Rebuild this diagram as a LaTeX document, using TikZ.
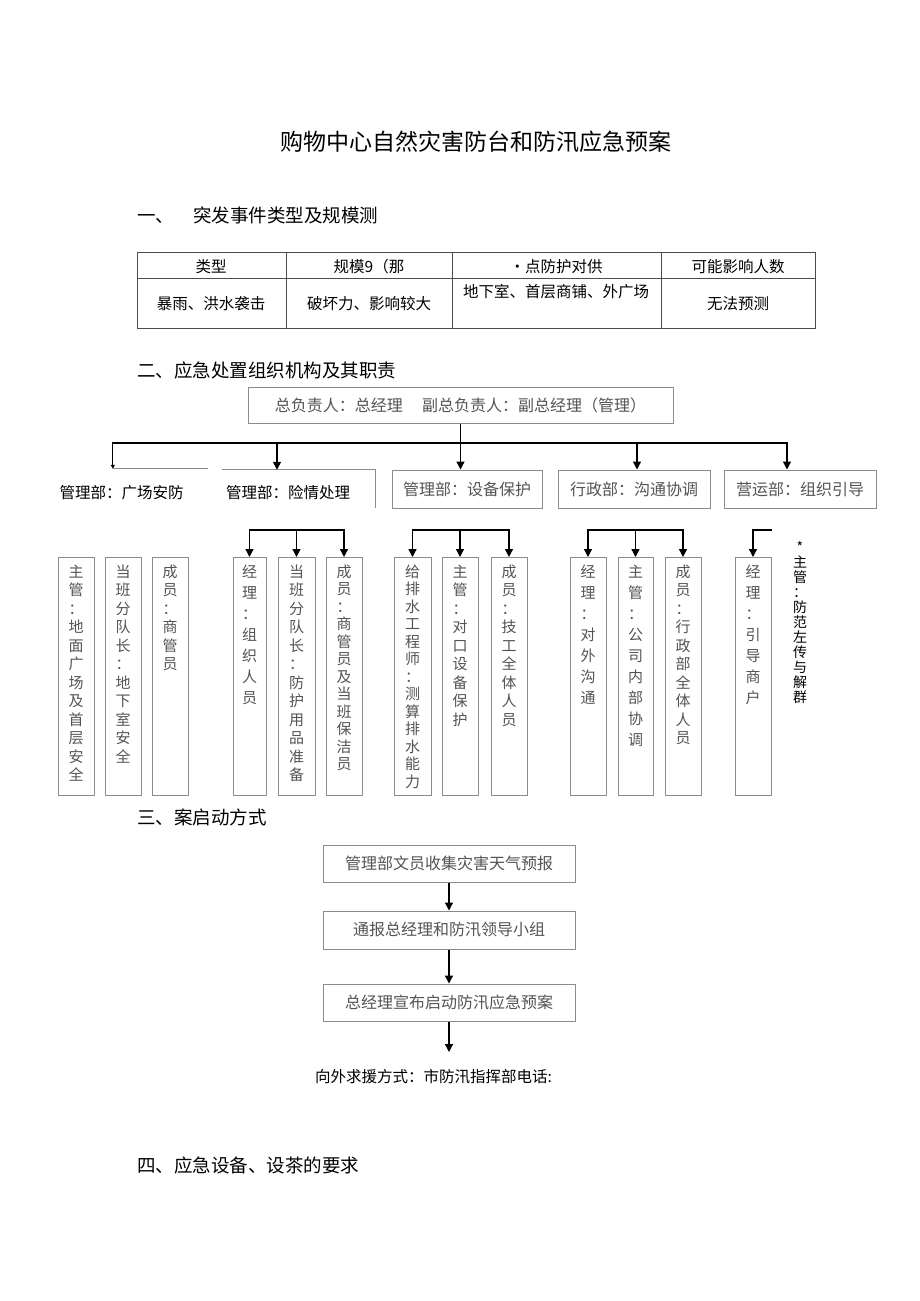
\documentclass[tikz,border=0pt]{standalone}
\usepackage{fontspec}
\setmainfont{Noto Sans CJK SC}
\usetikzlibrary{arrows.meta,positioning}
\definecolor{boxgray}{rgb}{0.55,0.55,0.55}
\definecolor{txtgray}{rgb}{0.33,0.33,0.33}
\definecolor{rulegray}{rgb}{0.3,0.3,0.3}

% one character per line, for the tall boxes
\newcommand\colstack[2][230pt]{\parbox[c][#1][t]{18pt}{\centering\vspace*{3pt}\colstackA#2\relax}}
\def\colstackA#1{\ifx\relax#1\else#1\par\expandafter\colstackA\fi}

\begin{document}
\begin{tikzpicture}[x=1pt, y=-1pt,
  heading/.style={anchor=west, inner sep=0pt, font=\fontsize{18.5}{22}\selectfont},
  cell/.style={inner sep=0pt, font=\fontsize{15.5}{19}\selectfont},
  unit/.style={draw=boxgray, line width=1pt, text=txtgray, minimum height=38pt, font=\fontsize{16}{20}\selectfont},
  member/.style={draw=boxgray, line width=1pt, text=txtgray, anchor=north, minimum width=36pt, inner sep=4pt, font=\fontsize{15}{18.5}\selectfont},
  wide/.style={font=\fontsize{15}{21}\selectfont},
  tight/.style={font=\fontsize{15}{17.5}\selectfont},
  link/.style={-{Triangle[width=8pt,length=8pt]}, line width=1.3pt}
]
\useasboundingbox[fill=white] (0,0) rectangle (920,1301);

\node[font=\fontsize{23}{28}\selectfont] (title) at (476,142) {购物中心自然灾害防台和防汛应急预案};

% section one: table
\node[heading] (sec1) at (137,215) {一、\hspace{19pt}突发事件类型及规模测};
\draw[rulegray, line width=0.9pt] (137,252) rectangle (815,328);
\draw[rulegray, line width=0.9pt] (137,278) -- (815,278);
\foreach \x in {286,452,661}
  \draw[rulegray, line width=0.9pt] (\x,252) -- (\x,328);
\node[cell] (hType) at (211,267) {类型};
\node[cell] (hScale) at (369,267) {规模9（那};
\node[cell] (hSpot) at (556,267) {·点防护对供};
\node[cell] (hPeople) at (738,267) {可能影响人数};
\node[cell] (vType) at (211,304) {暴雨、洪水袭击};
\node[cell] (vScale) at (369,304) {破坏力、影响较大};
\node[cell] (vSpot) at (556,292) {地下室、首层商铺、外广场};
\node[cell] (vPeople) at (738,304) {无法预测};

% section two: organisation
\node[heading] (sec2) at (137,370) {二、应急处置组织机构及其职责};
\node[unit, minimum width=425pt, minimum height=36pt] (chief) at (460.5,405) {总负责人：总经理\hspace{1.2em}副总负责人：副总经理（管理）};
\coordinate (hub) at (460.5,443);

\node[minimum width=95pt, minimum height=40pt] (plaza) at (160.5,489) {};
\node[cell] (plazatxt) at (121.5,493) {管理部：广场安防};
\node[minimum width=153pt, minimum height=38pt] (rescue) at (298.5,489) {};
\node[cell] (rescuetxt) at (288,493) {管理部：险情处理};
\node[unit, minimum width=150pt] (equip) at (467,489) {管理部：设备保护};
\node[unit, minimum width=152pt] (admin) at (634,489) {行政部：沟通协调};
\node[unit, minimum width=152pt] (ops) at (800,489) {营运部：组织引导};
\draw[boxgray, line width=1pt] (plaza.north west) -- (plaza.north east);
\draw[boxgray, line width=1pt] (rescue.north west) -- (rescue.north east) -- (rescue.south east);

\draw[line width=1.3pt] (chief) -- (hub);
\draw[line width=1.3pt, -{Triangle[width=4pt,length=4pt]}] (hub) -| (plaza.north west);
\draw[link] (hub) -| ([xshift=-21.5pt]rescue.north);
\draw[link] (hub) -- (hub |- equip.north);
\draw[link] (hub) -| ([xshift=3pt]admin.north);
\draw[link] (hub) -| ([xshift=-13pt]ops.north);

% members
\node[member] (p1) at (76,557) {\colstack{主管：地面广场及首层安全}};
\node[member] (p2) at (123,557) {\colstack{当班分队长：地下室安全}};
\node[member] (p3) at (170,557) {\colstack{成员：商管员}};

\node[member, wide, minimum width=33pt] (r1) at (249.5,557) {\colstack{经理：组织人员}};
\node[member, minimum width=37pt] (r2) at (296.5,557) {\colstack{当班分队长：防护用品准备}};
\node[member, tight] (r3) at (344,557) {\colstack{成员：商管员及当班保洁员}};

\node[member, tight, minimum width=37pt] (e1) at (412.5,557) {\colstack{给排水工程师：测算排水能力}};
\node[member] (e2) at (460,557) {\colstack{主管：对口设备保护}};
\node[member] (e3) at (509,557) {\colstack{成员：技工全体人员}};

\node[member, wide] (a1) at (588,557) {\colstack{经理：对外沟通}};
\node[member, wide, minimum width=35pt] (a2) at (635.5,557) {\colstack{主管：公司内部协调}};
\node[member] (a3) at (683,557) {\colstack{成员：行政部全体人员}};

\node[member, wide] (o1) at (753,557) {\colstack{经理：引导商户}};
\node[anchor=north, inner sep=0pt, font=\fontsize{14}{15}\selectfont] (note) at (800,538) {\colstack[170pt]{*主管：防范左传与解群}};

\coordinate (rfork) at (296.5,530);
\coordinate (efork) at (460,530);
\coordinate (afork) at (635.5,530);
\coordinate (ofork) at (772,530);
\foreach \m in {r1,r2,r3} \draw[link] (rfork) -| (\m.north);
\foreach \m in {e1,e2,e3} \draw[link] (efork) -| (\m.north);
\foreach \m in {a1,a2,a3} \draw[link] (afork) -| (\m.north);
\draw[link] (ofork) -| (o1.north);

% section three: start-up flow
\node[heading] (sec3) at (137,817) {三、案启动方式};
\node[unit, minimum width=252pt, minimum height=37pt] (f1) at (449,863.5) {管理部文员收集灾害天气预报};
\node[unit, minimum width=252pt, minimum height=38pt] (f2) at (449,930) {通报总经理和防汛领导小组};
\node[unit, minimum width=252pt, minimum height=37pt] (f3) at (449,1002.5) {总经理宣布启动防汛应急预案};
\coordinate (fend) at (449,1052);
\draw[link] (f1) -- (f2);
\draw[link] (f2) -- (f3);
\draw[link] (f3) -- (fend);
\node[cell, anchor=west] (help) at (315,1077) {向外求援方式：市防汛指挥部电话:};

\node[heading] (sec4) at (137,1165) {四、应急设备、设茶的要求};
\end{tikzpicture}
\end{document}
